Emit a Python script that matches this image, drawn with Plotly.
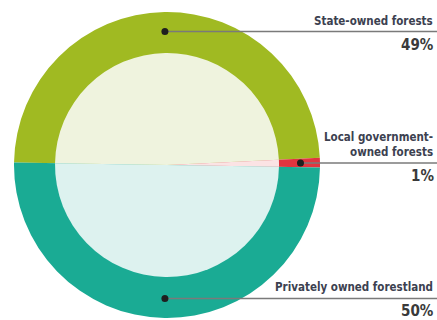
import math
import plotly.graph_objects as go

labels = ["State-owned forests", "Local government-owned forests", "Privately owned forestland"]
values = [49, 1, 50]
outer_colors = ["#a0ba22", "#e0353f", "#1aab94"]
inner_colors = ["#eff3de", "#fbe3e4", "#ddf2ef"]
label_text = ["State-owned forests", "Local government-<br>owned forests", "Privately owned forestland"]
pct_text = ["49%", "1%", "50%"]

W, H = 437, 320
cx, cy = 167, 165
R_out, R_in = 153, 112
rotation = 270.9

def px_x(x):
    return x / W

def px_y(y):
    return 1 - y / H

fig = go.Figure()
fig.add_trace(go.Pie(
    labels=labels, values=values, sort=False, direction="clockwise", rotation=rotation,
    marker=dict(colors=outer_colors, line=dict(width=0)), textinfo="none", hoverinfo="label+percent",
    domain=dict(x=[px_x(cx - R_out), px_x(cx + R_out)], y=[px_y(cy + R_out), px_y(cy - R_out)]),
    showlegend=False,
))
fig.add_trace(go.Pie(
    labels=labels, values=values, sort=False, direction="clockwise", rotation=rotation,
    marker=dict(colors=inner_colors, line=dict(width=0)), textinfo="none", hoverinfo="skip",
    domain=dict(x=[px_x(cx - R_in), px_x(cx + R_in)], y=[px_y(cy + R_in), px_y(cy - R_in)]),
    showlegend=False,
))

shapes = []
annotations = []
total = sum(values)
start = rotation
r_mid = (R_out + R_in) / 2 + 1
font = "Liberation Sans Narrow, DejaVu Sans Condensed, Roboto Condensed, Arial Narrow, sans-serif"
for i, v in enumerate(values):
    span = v / total * 360
    mid = start + span / 2
    start += span
    a = math.radians(mid)
    dx = cx + r_mid * math.sin(a)
    dy = cy - r_mid * math.cos(a)
    shapes.append(dict(type="line", xref="paper", yref="paper", x0=px_x(dx), y0=px_y(dy), x1=1, y1=px_y(dy),
                       line=dict(color="#7a7a7a", width=1.5), layer="above"))
    shapes.append(dict(type="circle", xref="paper", yref="paper",
                       x0=px_x(dx - 3.5), x1=px_x(dx + 3.5), y0=px_y(dy + 3.5), y1=px_y(dy - 3.5),
                       fillcolor="#1f1f1f", line=dict(width=0), layer="above"))
    annotations.append(dict(xref="paper", yref="paper", x=px_x(435), y=px_y(dy - 2), xanchor="right", yanchor="bottom",
                            text="<b>" + label_text[i] + "</b>", showarrow=False, align="right",
                            font=dict(family=font, size=11.5, color="#3c4150")))
    annotations.append(dict(xref="paper", yref="paper", x=px_x(436), y=px_y(dy + 2), xanchor="right", yanchor="top",
                            text="<b>" + pct_text[i] + "</b>", showarrow=False, align="right",
                            font=dict(family=font, size=15, color="#3a3a3a")))

fig.update_layout(
    width=W, height=H, margin=dict(l=0, r=0, t=0, b=0),
    paper_bgcolor="white", plot_bgcolor="white",
    shapes=shapes, annotations=annotations,
)
fig.write_html("out.html")
